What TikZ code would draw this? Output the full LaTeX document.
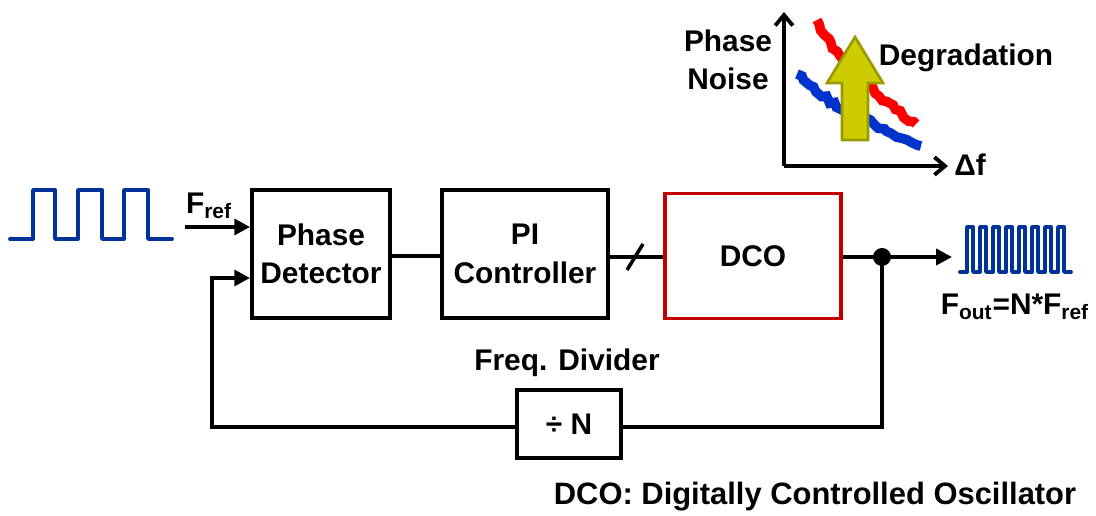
\documentclass[tikz,border=0pt]{standalone}
\usepackage{fontspec}
\setmainfont{Liberation Sans}
\usetikzlibrary{arrows.meta,decorations.pathmorphing}
\definecolor{wave}{HTML}{003399}
\definecolor{dcored}{HTML}{C00000}
\definecolor{arrfill}{HTML}{CCCC00}
\definecolor{arrdraw}{HTML}{999900}
\definecolor{crvred}{HTML}{FF0000}
\definecolor{crvblue}{HTML}{0033CC}
\begin{document}
\begin{tikzpicture}[x=0.02cm,y=-0.02cm,
  every node/.style={font=\fontsize{17}{22}\selectfont\bfseries},
  blk/.style={draw,line width=2.2pt,inner sep=0pt,align=center},
  conn/.style={line width=2.2pt},
  arr/.style={conn,-{Triangle[length=9pt,width=9pt]}},
  wv/.style={draw=wave,line width=2.2pt,line cap=round,line join=round},
  noisy/.style={line width=5.5pt,decorate,decoration={random steps,segment length=3pt,amplitude=1.2pt}},
  ax/.style={line width=2.2pt,-{Straight Barb[length=6pt,width=10pt,line width=2.2pt]}}]
\pgfmathsetseed{7}
\useasboundingbox (0,0) rectangle (1096,516);
% blocks
\node[blk,minimum width=138*0.02cm,minimum height=128*0.02cm] (pd) at (321,254) {Phase\\Detector};
\node[blk,minimum width=166*0.02cm,minimum height=128*0.02cm] (pi) at (525,254) {PI\\Controller};
\node[blk,draw=dcored,minimum width=176*0.02cm,minimum height=125*0.02cm] (dco) at (753,256) {DCO};
\node[blk,minimum width=104*0.02cm,minimum height=68*0.02cm] (div) at (569,424) {÷ N};
% labels
\node (fdl) at (567,363) {Freq. Divider};
\node (fref) at (209,206) {F\textsubscript{ref}};
\node (fout) at (1015,307) {F\textsubscript{out}=N*F\textsubscript{ref}};
\node[font=\fontsize{17.6}{20}\selectfont\bfseries] (cap) at (815,497) {DCO: Digitally Controlled Oscillator};
% coordinates
\coordinate (fin) at (185,227);
\coordinate (dot) at (882,257);
\coordinate (oend) at (952,257);
\coordinate (fbl) at (212,427);
\coordinate (fbr) at (882,427);
% connections
\draw[arr] (fin) -- (fin -| pd.west);
\draw[conn] (pd.east |- 0,256) -- (pi.west |- 0,256);
\draw[conn] (pi.east |- 0,257) -- (dco.west |- 0,257);
\draw[line width=2pt] (627,270) -- (643,244);
\draw[arr] (dco.east |- dot) -- (oend);
\fill (dot) circle (9);
\draw[conn] (dot) -- (fbr) -- (div.east |- fbr);
\draw[arr] (div.west |- fbl) -- (fbl) -- (212,278) -- (pd.west |- 0,278);
% input waveform
\draw[wv] (10,239) -- (33,239) -- (33,190) -- (55,190) -- (55,239) -- (78,239) -- (78,190) -- (102,190) -- (102,239) -- (124,239) -- (124,190) -- (148,190) -- (148,239) -- (172,239);
% output waveform
\draw[wv] (960,272) -- (967,272)
  \foreach \i in {0,...,7} { -- ({967+\i*13},227) -- ({973+\i*13},227) -- ({973+\i*13},272) -- ({980+\i*13},272) }
  -- (1068,272);
% inset: phase noise plot
\coordinate (orig) at (784,166);
\coordinate (ytop) at (784,12);
\coordinate (xend) at (948,166);
\draw[ax] (orig) -- (ytop);
\draw[ax] (orig) -- (xend);
\node[align=center] (pn) at (728,60) {Phase\\Noise};
\node (df) at (970,165) {Δf};
\node (deg) at (966,58) {Degradation};
\draw[crvred,noisy] (817,20) .. controls (825,40) and (840,58) .. (860,78) .. controls (880,98) and (898,112) .. (916,124);
\draw[crvblue,noisy] (797,74) .. controls (815,92) and (835,106) .. (860,117) .. controls (885,130) and (905,140) .. (921,146);
\draw[fill=arrfill,draw=arrdraw,line width=1.5pt] (842,140) -- (842,83) -- (827,83) -- (855,37) -- (883,83) -- (868,83) -- (868,140) -- cycle;
\end{tikzpicture}
\end{document}
